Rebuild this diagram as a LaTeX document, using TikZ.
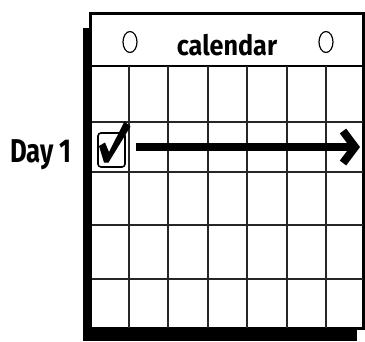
\documentclass[tikz,border=0pt]{standalone}
\usepackage{fontspec}
\newfontfamily\titlefont{Fira Sans}[FakeStretch=0.9]
\newfontfamily\dayfont{Fira Sans}[FakeStretch=0.78]
\usetikzlibrary{arrows.meta,shapes.geometric,positioning}
\begin{document}
\begin{tikzpicture}[x=1pt, y=-1pt,
    ring/.style={draw, ellipse, line width=1.2pt, minimum width=14pt,
                 minimum height=21pt, inner sep=0pt},
    gridline/.style={line width=1.2pt, black!85},
    tickbox/.style={draw, rounded corners=3pt, line width=1.6pt,
                    minimum width=27pt, minimum height=34pt, inner sep=0pt},
    bigarrow/.style={line width=8pt, -{Straight Barb[length=12pt, width=32pt]}}]
  \useasboundingbox (0,0) rectangle (365,341);

  % Shadow and frame
  \fill (83,28) rectangle (357,341);
  \draw[line width=3pt, fill=white] (90.5,13.5) rectangle (363,328);
  \draw[line width=2.5pt] (92,66) -- (363,66);

  % Grid
  \foreach \x in {129,168,208,247,287,326}
    \draw[gridline] (\x,66) -- (\x,328);
  \foreach \y in {122,172,225,279}
    \draw[gridline] (92,\y) -- (363,\y);

  % Header
  \node[anchor=base, inner sep=0pt] (title) at (227,55)
    {\titlefont\bfseries\fontsize{28}{28}\selectfont calendar};
  \node[ring] (ringL) at (130,42) {};
  \node[ring] (ringR) at (326,42) {};

  % Day row
  \node[anchor=base west, inner sep=0pt] (day) at (10,162)
    {\dayfont\bfseries\fontsize{33}{33}\selectfont Day 1};
  \node[tickbox] (check) at (111.5,150) {};
  \fill (99,146) -- (105,142.5) -- (109,152) -- (124.5,121.5)
    -- (130.5,126.5) -- (108.5,162.5) -- (104,162.5) -- cycle;
  \coordinate (end) at (360,147);
  \draw[bigarrow] ([xshift=10pt]check.east |- end) -- (end);
\end{tikzpicture}
\end{document}
